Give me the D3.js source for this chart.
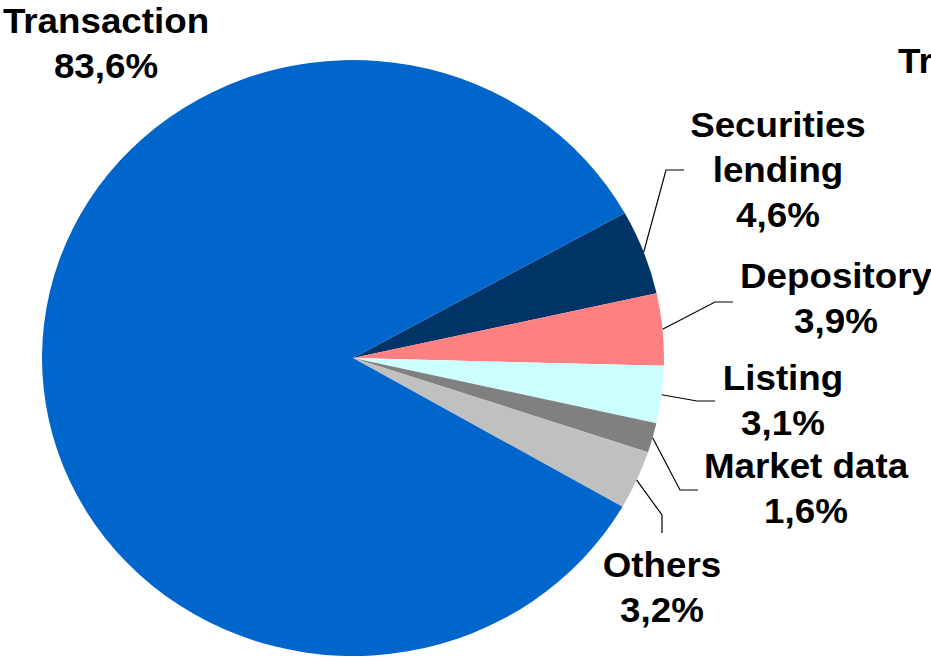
<!DOCTYPE html>
<html><head><meta charset="utf-8">
<script src="https://cdn.jsdelivr.net/npm/d3@7/dist/d3.min.js"></script>
<style>html,body{margin:0;padding:0;background:#fff;overflow:hidden}</style>
</head><body>
<svg id="chart" width="931" height="657"></svg>
<script>
const categories = ["Securities lending", "Depository", "Listing", "Market data", "Others", "Transaction"];
const values = [4.6, 3.9, 3.1, 1.6, 3.2, 83.6];
const valueLabels = ["4,6%", "3,9%", "3,1%", "1,6%", "3,2%", "83,6%"];
const labelLines = [["Securities", "lending"], ["Depository"], ["Listing"], ["Market data"], ["Others"], ["Transaction"]];
const colors = ["#003366", "#FF8080", "#CCFFFF", "#808080", "#C0C0C0", "#0066CC"];
const titleText = "Tr";

// layout
const cx = 353, cy = 358, rx = 311, ry = 298;
const startDeg = 60.9;
const labelPos = [
  {x: 778, y: 137, leader: [[666, 170], [684, 170]]},
  {x: 836, y: 288, leader: [[715, 302], [733, 302]]},
  {x: 783, y: 390, leader: [[697, 401], [715, 401]]},
  {x: 806, y: 478, leader: [[680, 490], [698, 490]]},
  {x: 662, y: 577, leader: [[662, 515], [662, 533]]},
  {x: 106, y: 33, leader: null}
];
const lineH = 45;
const fontSize = 35;
const stretchX = 1.05;

const svg = d3.select("#chart");
const data = categories.map((c, i) => ({cat: c, value: values[i], i}));
const pie = d3.pie().value(d => d.value).sort(null)
  .startAngle(startDeg * Math.PI / 180)
  .endAngle(startDeg * Math.PI / 180 + 2 * Math.PI);
const arcs = pie(data);
const arc = d3.arc().innerRadius(0).outerRadius(rx);

const g = svg.append("g").attr("transform", `translate(${cx},${cy}) scale(1,${ry / rx})`);
g.selectAll("path").data(arcs).join("path")
  .attr("d", arc)
  .attr("fill", d => colors[d.data.i]);

// leader lines
arcs.forEach(a => {
  const lp = labelPos[a.data.i];
  if (!lp.leader) return;
  const mid = (a.startAngle + a.endAngle) / 2;
  const sx = cx + rx * Math.sin(mid), sy = cy - ry * Math.cos(mid);
  const pts = [[sx, sy], ...lp.leader];
  svg.append("path")
    .attr("d", d3.line()(pts))
    .attr("fill", "none").attr("stroke", "#000").attr("stroke-width", 1.2);
});

// labels
arcs.forEach(a => {
  const i = a.data.i, lp = labelPos[i];
  const lines = [...labelLines[i], valueLabels[i]];
  const t = svg.append("g").attr("transform", `translate(${lp.x},0) scale(${stretchX},1)`)
    .append("text")
    .attr("text-anchor", "middle")
    .attr("font-family", "Liberation Sans, Arial, sans-serif")
    .attr("font-weight", "bold")
    .attr("font-size", fontSize)
    .attr("fill", "#000");
  lines.forEach((ln, k) => {
    t.append("tspan").attr("x", 0).attr("y", lp.y + k * lineH).text(ln);
  });
});

svg.append("g").attr("transform", `translate(898,0) scale(${stretchX},1)`)
  .append("text")
  .attr("x", 0).attr("y", 73)
  .attr("font-family", "Liberation Sans, Arial, sans-serif")
  .attr("font-weight", "bold")
  .attr("font-size", fontSize)
  .text(titleText);
</script>
</body></html>
